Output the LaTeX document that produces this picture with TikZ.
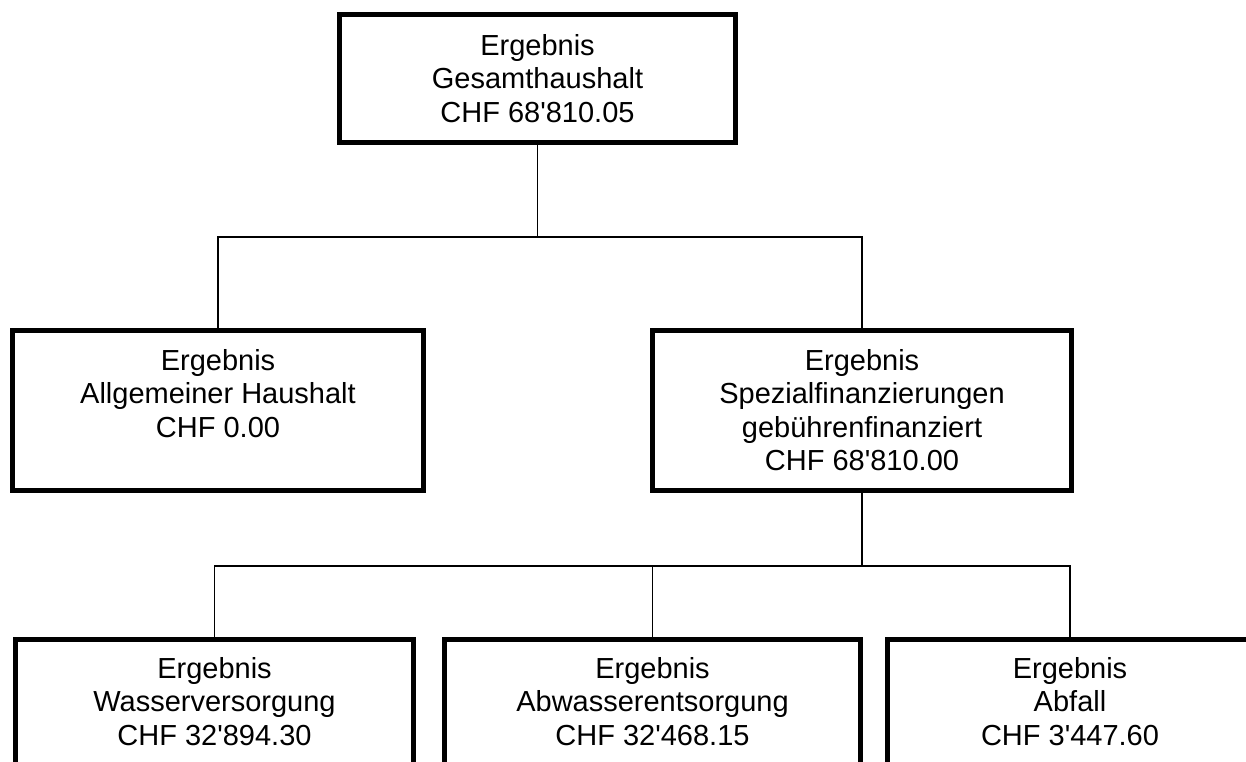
\documentclass[tikz,border=0pt]{standalone}
\usepackage{fontspec}
\setmainfont{Liberation Sans}
\usetikzlibrary{positioning}

\begin{document}
\begin{tikzpicture}[x=1pt, y=1pt,
  box/.style={draw, line width=4.5pt, inner sep=0pt},
  txt/.style={align=center, inner sep=0pt, font=\fontsize{29}{33.5}\selectfont},
  conn/.style={line width=1.4pt}
]
\useasboundingbox (0,0) rectangle (1246,-762);
\fill[white] (0,0) rectangle (1246,-762);
\clip (0,0) rectangle (1246,-762);

% boxes
\node[box, minimum width=396pt, minimum height=128pt] (gesamt) at (537.5,-78.5) {};
\node[box, minimum width=411pt, minimum height=160pt] (allg) at (218,-410.5) {};
\node[box, minimum width=419pt, minimum height=160pt] (spez) at (862,-410.5) {};
\node[box, minimum width=398pt, minimum height=160pt] (wasser) at (214.5,-719.5) {};
\node[box, minimum width=416pt, minimum height=160pt] (abwasser) at (652.5,-719.5) {};
\node[box, minimum width=365pt, minimum height=160pt] (abfall) at (1070,-719.5) {};

% texts
\node[txt, below=22pt of gesamt.north] (gesamt-t) {Ergebnis\\Gesamthaushalt\\CHF 68\textquotesingle810.05};
\node[txt, below=21pt of allg.north] (allg-t) {Ergebnis\\Allgemeiner Haushalt\\CHF 0.00};
\node[txt, below=21pt of spez.north] (spez-t) {Ergebnis\\Spezialfinanzierungen\\gebührenfinanziert\\CHF 68\textquotesingle810.00};
\node[txt, below=20pt of wasser.north] (wasser-t) {Ergebnis\\Wasserversorgung\\CHF 32\textquotesingle894.30};
\node[txt, below=20pt of abwasser.north] (abwasser-t) {Ergebnis\\Abwasserentsorgung\\CHF 32\textquotesingle468.15};
\node[txt, below=20pt of abfall.north] (abfall-t) {Ergebnis\\Abfall\\CHF 3\textquotesingle447.60};

% connectors
\coordinate (bus1) at (0,-237);
\coordinate (bus2) at (0,-566);
\draw[conn] (gesamt.south) -- (gesamt.south |- bus1);
\draw[conn] (allg.north) -- (allg.north |- bus1) -- (spez.north |- bus1) -- (spez.north);
\draw[conn] (spez.south) -- (spez.south |- bus2);
\draw[conn] (wasser.north) -- (wasser.north |- bus2) -- (abfall.north |- bus2) -- (abfall.north);
\draw[conn] (abwasser.north) -- (abwasser.north |- bus2);
\end{tikzpicture}
\end{document}
